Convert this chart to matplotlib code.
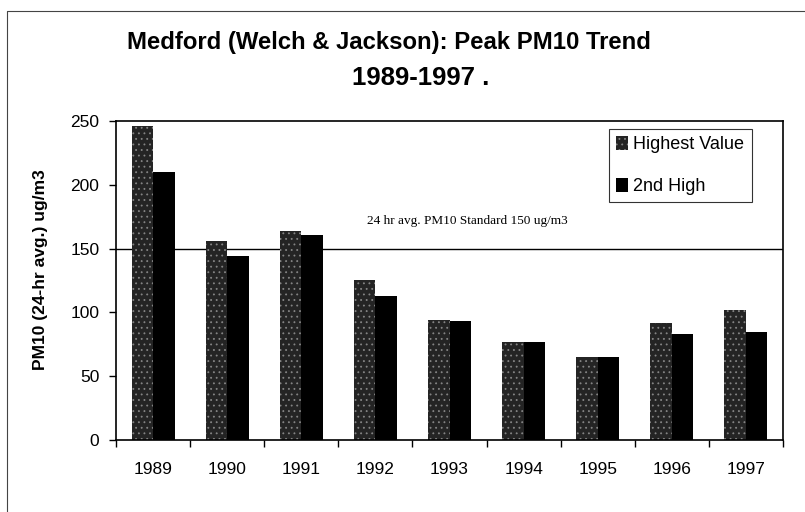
import matplotlib
matplotlib.use("Agg")
import matplotlib.pyplot as plt
import numpy as np
from matplotlib.lines import Line2D

# Peak 24-hour PM10 readings at the Welch & Jackson monitor
years = ["1989", "1990", "1991", "1992", "1993", "1994", "1995", "1996", "1997"]
highest_value = [246, 156, 164, 125, 94, 77, 65, 92, 102]
second_high = [210, 144, 161, 113, 93, 77, 65, 83, 85]
standard_level = 150
y_ticks = [0, 50, 100, 150, 200, 250]

plt.rcParams["font.family"] = ["Liberation Sans", "DejaVu Sans"]
plt.rcParams["hatch.linewidth"] = 0.6

fig = plt.figure(figsize=(8.05, 5.12), dpi=100)
ax = fig.add_axes([0.1441, 0.1406, 0.8286, 0.6231])

x = np.arange(len(years))
bar_w = 0.29

ax.axhline(standard_level, color="black", lw=1.0, zorder=1)

ax.bar(x - bar_w / 2, highest_value, width=bar_w, facecolor="#242424",
       edgecolor="#858585", hatch="...", linewidth=0, zorder=2,
       label="Highest Value")
ax.bar(x + bar_w / 2, second_high, width=bar_w, facecolor="black",
       edgecolor="black", linewidth=0, zorder=2, label="2nd High")

ax.set_xlim(-0.5, len(years) - 0.5)
ax.set_ylim(0, 250)

# Category labels sit between boundary tick marks
ax.set_xticks(np.arange(-0.5, len(years) + 0.5, 1.0))
ax.set_xticklabels([])
ax.tick_params(axis="x", which="major", direction="out", length=5, width=1)
ax.set_xticks(x, minor=True)
ax.set_xticklabels(years, minor=True, fontsize=12.5)
ax.tick_params(axis="x", which="minor", length=0, pad=16)

ax.set_yticks(y_ticks)
ax.set_yticklabels([str(v) for v in y_ticks], fontsize=12.5)
ax.tick_params(axis="y", direction="out", length=5, width=1, pad=7)

for s in ax.spines.values():
    s.set_linewidth(1.2)
    s.set_color("black")

ax.set_ylabel("PM10 (24-hr avg.) ug/m3", fontsize=12.5, fontweight="bold")
ax.yaxis.set_label_coords(-0.102, 0.535)

ax.text(4.24, 172, "24 hr avg. PM10 Standard 150 ug/m3",
        family=["Liberation Serif", "DejaVu Serif"], fontsize=9.5,
        ha="center", va="center", zorder=3)

leg = ax.legend(loc="upper right", bbox_to_anchor=(0.953, 0.975),
                fontsize=13, frameon=True, fancybox=False, edgecolor="black",
                handlelength=0.65, handleheight=0.8, handletextpad=0.3,
                labelspacing=1.35, borderpad=0.4, borderaxespad=0)
leg.get_frame().set_linewidth(0.8)

fig.text(389 / 805, 1 - 42 / 512, "Medford (Welch & Jackson): Peak PM10 Trend",
         fontsize=17.2, fontweight="bold", ha="center", va="center")
fig.text(421 / 805, 1 - 78 / 512, "1989-1997 .",
         fontsize=18.5, fontweight="bold", ha="center", va="center")

# Page frame along the top and left edges
fig.add_artist(Line2D([7 / 805, 7 / 805, 1.0], [0.0, 1 - 11 / 512, 1 - 11 / 512],
                      transform=fig.transFigure, color="#444444", lw=0.8))

fig.savefig("out.png", dpi=100, facecolor="white")
